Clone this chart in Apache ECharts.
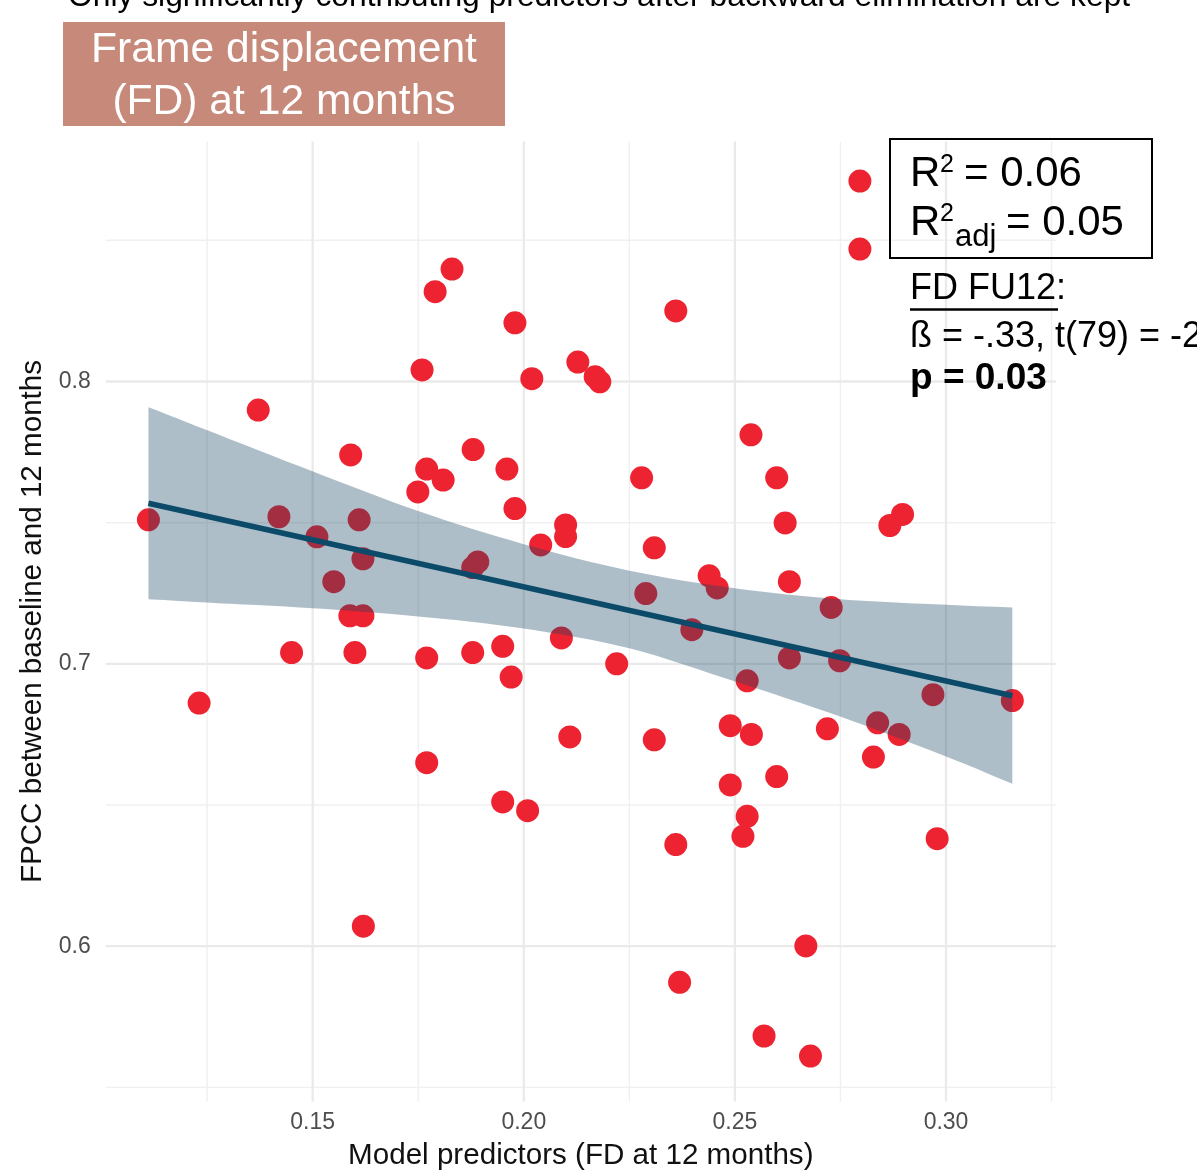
<!DOCTYPE html>
<html><head><meta charset="utf-8">
<script src="https://cdn.jsdelivr.net/npm/echarts@6/dist/echarts.min.js"></script>
<style>html,body{margin:0;padding:0;background:#fff}#c{width:1197px;height:1171px}</style>
</head><body><div id="c"></div>
<script>
const FONT = '"Liberation Sans", Arial, Helvetica, sans-serif';

// Model predictor: FD at 12 months (x) and FPCC between baseline and 12 months (y)
const fdValues = [
  0.1111, 0.1231, 0.1371, 0.1420, 0.1450, 0.1510, 0.1550, 0.1590, 0.1588, 0.1600,
  0.1610, 0.1619, 0.1619, 0.1620, 0.1759, 0.1749, 0.1770, 0.1770, 0.1770, 0.1790,
  0.1809, 0.1830, 0.1880, 0.1879, 0.1891, 0.1879, 0.1950, 0.1950, 0.1960, 0.1970,
  0.1979, 0.1979, 0.2009, 0.2019, 0.2040, 0.2089, 0.2099, 0.2099, 0.2109, 0.2128,
  0.2169, 0.2180, 0.2220, 0.2279, 0.2289, 0.2309, 0.2309, 0.2360, 0.2360, 0.2369,
  0.2398, 0.2439, 0.2458, 0.2489, 0.2489, 0.2519, 0.2529, 0.2529, 0.2539, 0.2538,
  0.2569, 0.2599, 0.2599, 0.2619, 0.2629, 0.2629, 0.2668, 0.2679, 0.2719, 0.2728,
  0.2748, 0.2828, 0.2838, 0.2867, 0.2897, 0.2889, 0.2969, 0.2979, 0.3157, 0.2796,
  0.2796
];
const fpccValues = [
  0.7510, 0.6861, 0.7899, 0.7521, 0.7040, 0.7450, 0.7291, 0.7740, 0.7170, 0.7040,
  0.7510, 0.7372, 0.7170, 0.6071, 0.8041, 0.7609, 0.7690, 0.7021, 0.6650, 0.8318,
  0.7651, 0.8398, 0.7759, 0.7341, 0.7361, 0.7040, 0.7062, 0.6511, 0.7690, 0.6953,
  0.8208, 0.7550, 0.6480, 0.8010, 0.7421, 0.7092, 0.7492, 0.7451, 0.6741, 0.8069,
  0.8017, 0.7999, 0.7000, 0.7659, 0.7249, 0.7411, 0.6731, 0.8250, 0.6360, 0.5872,
  0.7121, 0.7312, 0.7269, 0.6781, 0.6571, 0.6389, 0.6460, 0.6940, 0.6750, 0.7811,
  0.5682, 0.7659, 0.6601, 0.7499, 0.7291, 0.7021, 0.6001, 0.5611, 0.6770, 0.7200,
  0.7011, 0.6670, 0.6791, 0.7490, 0.7529, 0.6750, 0.6891, 0.6381, 0.6870, 0.8710,
  0.8469
];

// Fitted regression line (endpoints) and its confidence band
const fitX = [0.1111, 0.3157];
const fitY = [0.7569, 0.6887];
const bandX     = [0.1111, 0.1249, 0.1501, 0.1750, 0.2000, 0.2250, 0.2499, 0.2748, 0.3000, 0.3157];
const bandUpper = [0.7909, 0.7828, 0.7681, 0.7541, 0.7424, 0.7330, 0.7268, 0.7229, 0.7209, 0.7200];
const bandLower = [0.7229, 0.7217, 0.7197, 0.7168, 0.7125, 0.7055, 0.6938, 0.6814, 0.6672, 0.6575];

// Axis ticks / grid
const xMajorTicks = [0.15, 0.20, 0.25, 0.30];
const xMinorTicks = [0.125, 0.175, 0.225, 0.275, 0.325];
const yMajorTicks = [0.6, 0.7, 0.8];
const yMinorTicks = [0.55, 0.65, 0.75, 0.85];
const X_MIN = 0.101, X_MAX = 0.326, Y_MIN = 0.545, Y_MAX = 0.885;

const gridLineData = [];
xMinorTicks.forEach(v => gridLineData.push([v, Y_MIN, 1, 0]));
yMinorTicks.forEach(v => gridLineData.push([X_MIN, v, 0, 0]));
xMajorTicks.forEach(v => gridLineData.push([v, Y_MIN, 1, 1]));
yMajorTicks.forEach(v => gridLineData.push([X_MIN, v, 0, 1]));

const points = fdValues.map((x, i) => [x, fpccValues[i]]);
const fitData = fitX.map((x, i) => [x, fitY[i]]);

const chart = echarts.init(document.getElementById('c'), null, {renderer: 'canvas'});

function txt(x, y, text, size, opts) {
  opts = opts || {};
  return {
    type: 'text', x: x, y: y, silent: true, z: 100,
    style: {
      text: text,
      font: (opts.bold ? 'bold ' : '') + size + 'px ' + FONT,
      fill: opts.fill || '#000',
      align: opts.align || 'left', textAlign: opts.align || 'left',
      verticalAlign: 'middle', textVerticalAlign: 'middle'
    }
  };
}

// Catmull-Rom sampling in pixel space (rendering a smooth edge through read points)
function smoothEdge(pts) {
  const out = [];
  for (let i = 0; i < pts.length - 1; i++) {
    const p0 = pts[Math.max(i - 1, 0)], p1 = pts[i], p2 = pts[i + 1], p3 = pts[Math.min(i + 2, pts.length - 1)];
    for (let s = 0; s < 8; s++) {
      const t = s / 8, t2 = t * t, t3 = t2 * t;
      const f = (a, b, c, d) => 0.5 * ((2 * b) + (-a + c) * t + (2 * a - 5 * b + 4 * c - d) * t2 + (-a + 3 * b - 3 * c + d) * t3);
      out.push([f(p0[0], p1[0], p2[0], p3[0]), f(p0[1], p1[1], p2[1], p3[1])]);
    }
  }
  out.push(pts[pts.length - 1]);
  return out;
}

const option = {
  animation: false,
  backgroundColor: '#ffffff',
  grid: {left: 105.8, top: 141.5, width: 950, height: 960, containLabel: false, outerBoundsMode: 'none'},
  xAxis: {
    type: 'value', min: X_MIN, max: X_MAX, interval: 0.001,
    axisLine: {show: false}, axisTick: {show: false}, splitLine: {show: false},
    axisLabel: {
      margin: 10, fontSize: 23, color: '#4D4D4D', fontFamily: FONT,
      formatter: function (v) {
        const r = Math.round(v * 20);
        if (Math.abs(v * 20 - r) < 1e-6 && v > 0.12 && v < 0.31) return (r / 20).toFixed(2);
        return '';
      }
    },
    name: 'Model predictors (FD at 12 months)', nameLocation: 'middle', nameGap: 39,
    nameTextStyle: {fontSize: 29.6, color: '#111', fontFamily: FONT}
  },
  yAxis: {
    type: 'value', min: Y_MIN, max: Y_MAX, interval: 0.005,
    axisLine: {show: false}, axisTick: {show: false}, splitLine: {show: false},
    axisLabel: {
      margin: 15, fontSize: 23, color: '#4D4D4D', fontFamily: FONT,
      formatter: function (v) {
        const r = Math.round(v * 10);
        if (Math.abs(v * 10 - r) < 1e-6 && v > 0.56 && v < 0.86) return (r / 10).toFixed(1);
        return '';
      }
    },
    name: 'FPCC between baseline and 12 months', nameLocation: 'middle', nameGap: 52, nameRotate: 90,
    nameTextStyle: {fontSize: 29.6, color: '#111', fontFamily: FONT}
  },
  series: [
    {
      type: 'custom', coordinateSystem: 'cartesian2d', z: 1, silent: true,
      data: gridLineData,
      renderItem: function (params, api) {
        const v0 = api.value(0), v1 = api.value(1), vert = api.value(2), major = api.value(3);
        let a, b;
        if (vert) { a = api.coord([v0, Y_MIN]); b = api.coord([v0, Y_MAX]); }
        else { a = api.coord([X_MIN, v1]); b = api.coord([X_MAX, v1]); }
        return {
          type: 'line',
          shape: {x1: a[0], y1: a[1], x2: b[0], y2: b[1]},
          style: {stroke: major ? '#EAEAEA' : '#F0F0F0', lineWidth: major ? 2.3 : 1.4}
        };
      }
    },
    {
      type: 'scatter', z: 2, data: points, symbol: 'circle', symbolSize: 23,
      itemStyle: {color: '#EE2331', opacity: 1}, silent: true
    },
    {
      type: 'custom', coordinateSystem: 'cartesian2d', z: 3, silent: true,
      data: [[bandX[0], bandUpper[0]]],
      renderItem: function (params, api) {
        const up = [], lo = [];
        for (let i = 0; i < bandX.length; i++) {
          up.push(api.coord([bandX[i], bandUpper[i]]));
          lo.push(api.coord([bandX[i], bandLower[i]]));
        }
        const pts = smoothEdge(up).concat(smoothEdge(lo).reverse());
        return {type: 'polygon', shape: {points: pts}, style: {fill: 'rgba(22,70,100,0.35)'}};
      }
    },
    {
      type: 'line', z: 4, data: fitData, symbol: 'none', silent: true,
      lineStyle: {color: '#0B4B69', width: 5.5}
    }
  ],
  graphic: [
    txt(68, -2.6, 'Only significantly contributing predictors after backward elimination are kept', 31.8),
    {type: 'rect', shape: {x: 63, y: 22, width: 442, height: 104}, style: {fill: '#C78A7A'}, z: 99, silent: true},
    txt(284, 50.5, 'Frame displacement', 42.6, {fill: '#ffffff', align: 'center'}),
    txt(284, 102, '(FD) at 12 months', 42.6, {fill: '#ffffff', align: 'center'}),
    {type: 'rect', shape: {x: 890, y: 139, width: 262, height: 119},
     style: {fill: 'rgba(0,0,0,0)', stroke: '#000', lineWidth: 2}, z: 99, silent: true},
    txt(910, 174.5, 'R', 42),
    txt(940, 165.5, '2', 25),
    txt(964, 174.5, '= 0.06', 42),
    txt(910, 223.5, 'R', 42),
    txt(940, 214.5, '2', 25),
    txt(955, 237.5, 'adj', 31),
    txt(1006, 223.5, '= 0.05', 42),
    txt(910, 289.5, 'FD FU12:', 36),
    {type: 'line', shape: {x1: 910, y1: 309.5, x2: 1058, y2: 309.5}, style: {stroke: '#000', lineWidth: 2.5}, z: 100, silent: true},
    txt(910, 337.5, 'ß = -.33, t(79) = -2.21', 36),
    txt(910, 379.2, 'p = 0.03', 37, {bold: true})
  ]
};
chart.setOption(option);
</script>
</body></html>
